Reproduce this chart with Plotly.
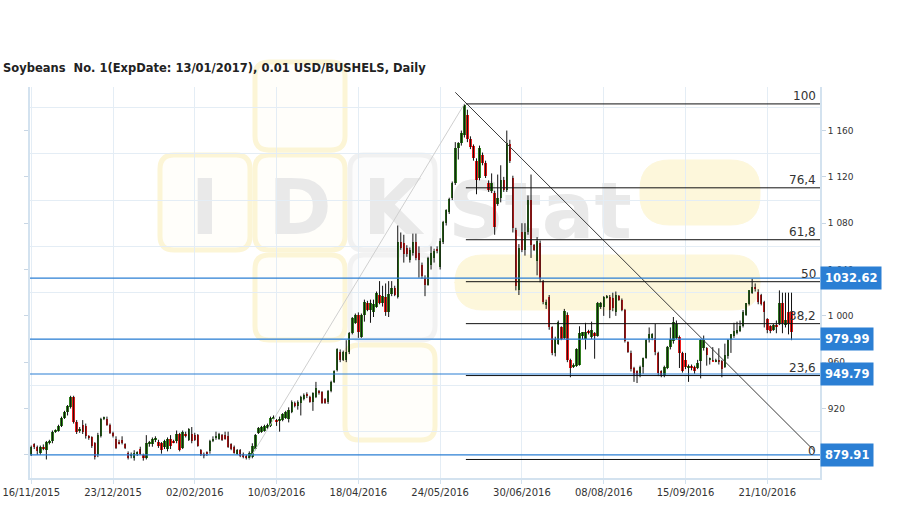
import plotly.graph_objects as go

# ---------------- data ----------------
tick_labels = ["16/11/2015", "23/12/2015", "02/02/2016", "10/03/2016", "18/04/2016",
               "24/05/2016", "30/06/2016", "08/08/2016", "15/09/2016", "21/10/2016"]
bars_per_tick = 27

opens = [880, 889, 887, 882, 887, 884, 891, 892, 900, 901, 905, 912, 917, 921, 930, 908, 901, 906, 905, 896,
         895, 890, 880, 896, 911, 911, 906, 899, 894, 891, 893, 889, 882, 879, 877, 881, 885, 880, 877, 889,
         889, 893, 891, 890, 887, 885, 894, 892, 892, 898, 886, 898, 893, 898, 897, 897, 884, 880, 882, 883,
         892, 895, 894, 897, 897, 896, 889, 887, 881, 884, 881, 879, 877, 878, 885, 899, 900, 901, 903, 905,
         911, 910, 909, 910, 912, 911, 917, 925, 922, 925, 928, 932, 930, 926, 930, 935, 934, 928, 926, 935,
         943, 953, 969, 962, 962, 969, 985, 994, 1001, 982, 1001, 1011, 1005, 1003, 1008, 1018, 1011, 1016, 1003, 1019,
         1024, 1016, 1064, 1063, 1059, 1048, 1054, 1064, 1054, 1044, 1033, 1027, 1044, 1050, 1058, 1042, 1064, 1080, 1090, 1102,
         1115, 1145, 1149, 1156, 1173, 1153, 1147, 1134, 1119, 1139, 1132, 1115, 1108, 1106, 1097, 1102, 1117, 1109, 1148, 1119,
         1074, 1022, 1072, 1057, 1072, 1100, 1061, 1047, 1063, 1030, 1009, 1016, 990, 968, 976, 990, 981, 1001, 962, 956,
         957, 958, 983, 980, 987, 982, 985, 983, 1008, 1008, 1016, 1016, 1015, 1003, 1017, 1014, 1005, 977, 968, 955,
         952, 949, 956, 964, 979, 981, 981, 968, 952, 949, 955, 973, 978, 981, 982, 968, 962, 955, 957, 956,
         955, 961, 972, 972, 962, 962, 961, 962, 961, 956, 965, 979, 983, 985, 987, 991, 1001, 1010, 1020, 1025,
         1021, 1018, 1012, 997, 991, 988, 992, 993, 1011, 992, 1003, 1003]
highs = [888, 890, 888, 888, 889, 892, 893, 901, 902, 906, 913, 918, 923, 931, 931, 910, 904, 910, 907, 897,
         896, 891, 899, 912, 913, 913, 907, 900, 896, 893, 896, 890, 883, 882, 884, 883, 887, 881, 897, 892,
         895, 896, 893, 891, 893, 895, 897, 893, 901, 899, 901, 900, 903, 904, 899, 898, 885, 882, 883, 893,
         896, 900, 899, 898, 900, 900, 890, 888, 885, 885, 882, 880, 883, 890, 898, 904, 905, 906, 907, 913,
         914, 911, 913, 916, 918, 921, 927, 926, 927, 931, 933, 934, 931, 934, 943, 936, 935, 929, 936, 944,
         953, 972, 971, 970, 979, 986, 999, 1002, 1003, 1002, 1014, 1013, 1014, 1014, 1021, 1030, 1026, 1028, 1030, 1030,
         1026, 1078, 1072, 1070, 1061, 1059, 1071, 1071, 1060, 1046, 1035, 1051, 1060, 1058, 1060, 1067, 1082, 1092, 1102, 1116,
         1150, 1150, 1160, 1183, 1178, 1155, 1148, 1136, 1147, 1141, 1134, 1117, 1123, 1108, 1122, 1130, 1120, 1160, 1152, 1121,
         1076, 1062, 1080, 1080, 1104, 1122, 1062, 1068, 1065, 1031, 1014, 1018, 991, 982, 996, 991, 1006, 1003, 963, 959,
         972, 991, 986, 994, 988, 995, 986, 1012, 1012, 1017, 1018, 1018, 1020, 1021, 1018, 1015, 1006, 978, 970, 956,
         953, 957, 964, 980, 990, 985, 993, 969, 953, 957, 974, 990, 999, 996, 983, 969, 968, 958, 958, 957,
         962, 980, 983, 973, 964, 973, 963, 972, 962, 976, 980, 984, 994, 995, 996, 1005, 1011, 1022, 1032, 1028,
         1023, 1019, 1013, 998, 992, 993, 996, 1022, 1020, 1020, 1020, 1020]
lows = [879, 885, 880, 880, 884, 876, 889, 890, 899, 900, 904, 911, 914, 920, 907, 898, 899, 898, 894, 893,
        886, 876, 878, 895, 910, 905, 898, 895, 885, 889, 889, 885, 876, 877, 875, 879, 880, 875, 876, 887,
        887, 891, 886, 881, 885, 883, 885, 890, 890, 883, 885, 895, 892, 890, 892, 887, 879, 877, 879, 881,
        891, 893, 893, 892, 893, 886, 884, 881, 880, 878, 877, 876, 876, 877, 884, 898, 899, 900, 902, 904,
        910, 905, 900, 909, 911, 908, 916, 921, 919, 914, 927, 929, 925, 918, 929, 932, 924, 924, 924, 934,
        942, 952, 960, 961, 960, 967, 984, 993, 981, 981, 995, 1004, 994, 999, 1007, 1010, 1008, 1000, 999, 1017,
        1017, 1015, 1057, 1046, 1051, 1046, 1052, 1048, 1033, 1032, 1017, 1026, 1040, 1046, 1054, 1040, 1062, 1078, 1088, 1100,
        1113, 1135, 1147, 1154, 1150, 1144, 1134, 1105, 1117, 1130, 1119, 1107, 1106, 1070, 1095, 1098, 1107, 1107, 1132, 1072,
        1022, 1018, 1055, 1052, 1070, 1050, 1056, 1035, 1029, 1010, 1006, 988, 966, 965, 975, 979, 980, 960, 947, 955,
        956, 957, 980, 971, 984, 980, 963, 982, 1006, 1000, 1015, 998, 1004, 1000, 1013, 1004, 977, 968, 952, 943,
        942, 947, 950, 963, 977, 979, 966, 948, 947, 947, 954, 971, 976, 980, 955, 951, 954, 943, 953, 950,
        954, 946, 970, 957, 958, 961, 960, 958, 947, 955, 963, 968, 981, 984, 986, 990, 1000, 1009, 1019, 1021,
        1010, 1009, 990, 985, 985, 987, 985, 992, 985, 990, 984, 979]
closes = [887, 887, 883, 887, 885, 891, 892, 900, 901, 905, 912, 917, 922, 930, 908, 900, 902, 900, 896, 895,
          888, 878, 897, 911, 912, 906, 899, 896, 886, 890, 890, 886, 877, 881, 882, 881, 881, 877, 890, 891,
          894, 893, 888, 884, 892, 894, 888, 891, 898, 884, 900, 897, 902, 892, 893, 888, 880, 879, 881, 892,
          894, 896, 898, 893, 894, 887, 885, 882, 884, 879, 878, 877, 882, 888, 897, 903, 904, 905, 906, 912,
          912, 908, 911, 915, 917, 919, 926, 922, 926, 930, 932, 931, 926, 933, 938, 933, 925, 925, 935, 943,
          952, 971, 962, 969, 969, 985, 998, 1001, 986, 1001, 1012, 1005, 1011, 1010, 1020, 1011, 1017, 1003, 1019, 1024,
          1018, 1064, 1059, 1053, 1053, 1057, 1064, 1050, 1048, 1034, 1027, 1050, 1054, 1056, 1056, 1065, 1081, 1091, 1101, 1115,
          1145, 1149, 1158, 1182, 1153, 1146, 1136, 1117, 1145, 1132, 1121, 1109, 1115, 1077, 1102, 1117, 1109, 1149, 1134, 1076,
          1026, 1059, 1057, 1072, 1100, 1061, 1057, 1065, 1032, 1012, 1012, 990, 968, 980, 995, 980, 1004, 962, 955, 958,
          971, 985, 986, 986, 985, 988, 983, 1011, 1011, 1016, 1017, 1005, 1007, 1018, 1014, 1005, 978, 969, 954, 948,
          948, 956, 964, 979, 984, 984, 969, 951, 948, 956, 973, 980, 995, 993, 968, 952, 956, 956, 955, 952,
          959, 979, 979, 966, 963, 961, 962, 960, 954, 966, 979, 984, 987, 988, 991, 1003, 1011, 1022, 1025, 1024,
          1012, 1010, 1003, 988, 987, 992, 990, 1011, 994, 996, 993, 986]

# Fibonacci retracement drawn on the chart
fib_low_bar, fib_low = 72, 876.0
fib_high_bar, fib_high = 143, 1183.0
fib_pct = [0, 23.6, 38.2, 50, 61.8, 76.4, 100]
fib_text = ["0", "23,6", "38,2", "50", "61,8", "76,4", "100"]

# horizontal price levels with their labels
level_values = [1032.62, 979.99, 949.79, 879.91]

# trend line drawn from the top
trend_x = [140, 258.7]
trend_y = [1193, 883]

# ---------------- styling ----------------
GREEN = "#2f7d1d"
RED = "#f01c1c"
BLUE = "#2b7fd4"
GRID = "#e4edf5"
AXIS = "#d3e2ef"
TXT = "#333333"
FONT = "DejaVu Sans"

X_MIN, X_MAX = -0.4, 260.4
Y_MIN, Y_MAX = 860.0, 1197.6

n = len(closes)
idx = list(range(n))

# wicks
wx, wy = [], []
for i in idx:
    wx += [i, i, None]
    wy += [lows[i], highs[i], None]

bases = [min(o, c) for o, c in zip(opens, closes)]
heights = [max(abs(c - o), 0.9) for o, c in zip(opens, closes)]
colors = [GREEN if c >= o else RED for o, c in zip(opens, closes)]

fig = go.Figure()
fig.add_trace(go.Scatter(x=wx, y=wy, mode="lines", line=dict(color="#111111", width=1),
                         hoverinfo="skip", showlegend=False))
fig.add_trace(go.Bar(x=idx, y=heights, base=bases, width=0.8, marker=dict(color=colors, line=dict(width=0)),
                     showlegend=False, hoverinfo="skip"))

# grey swing line (low -> high)
fig.add_trace(go.Scatter(x=[fib_low_bar, fib_high_bar], y=[fib_low, fib_high], mode="lines",
                         line=dict(color="#cfcfcf", width=1), hoverinfo="skip", showlegend=False))
# black trend line
fig.add_trace(go.Scatter(x=trend_x, y=trend_y, mode="lines",
                         line=dict(color="#3a3a3a", width=1), hoverinfo="skip", showlegend=False))

shapes = []
annotations = []

# ---- watermark (decorative, drawn below everything) ----
PL, PR, PT, PB = 30, 820, 87, 478
def px(xp):
    return (xp - PL) / (PR - PL)
def py(yp):
    return (PB - yp) / (PB - PT)

LETTER = "#e9e9e9"
def rrect(x0, y0, x1, y1, r, fill, line, lw=5, label=None):
    rx = r / (PR - PL)
    ry = r / (PB - PT)
    X0, X1 = px(x0), px(x1)
    Y0, Y1 = py(y1), py(y0)
    path = (f"M {X0+rx},{Y0} L {X1-rx},{Y0} Q {X1},{Y0} {X1},{Y0+ry} L {X1},{Y1-ry} "
            f"Q {X1},{Y1} {X1-rx},{Y1} L {X0+rx},{Y1} Q {X0},{Y1} {X0},{Y1-ry} L {X0},{Y0+ry} "
            f"Q {X0},{Y0} {X0+rx},{Y0} Z")
    s = dict(type="path", path=path, xref="paper", yref="paper", layer="below",
             fillcolor=fill, line=dict(color=line, width=lw))
    if label:
        s["label"] = dict(text=label, font=dict(family=FONT, size=76, color=LETTER),
                          textposition="middle center")
    shapes.append(s)

SQ_FILL, SQ_LINE = "#fffefa", "#fcf5d6"
rrect(255, 62, 345, 150, 14, SQ_FILL, SQ_LINE)
rrect(160, 155, 250, 250, 14, SQ_FILL, SQ_LINE, label="<b>I</b>")
rrect(255, 155, 345, 250, 14, SQ_FILL, SQ_LINE, label="<b>D</b>")
rrect(350, 155, 435, 250, 14, "#fcfcfc", "#f1f1f1", label="<b>K</b>")
rrect(640, 160, 760, 225, 30, "#fdf7db", "#fdf7db", lw=1)
rrect(255, 255, 345, 340, 14, SQ_FILL, SQ_LINE)
rrect(350, 255, 435, 340, 14, "#fcfcfc", "#f2f2f2")
rrect(455, 255, 760, 310, 28, "#fdf7db", "#fdf7db", lw=1)
rrect(345, 345, 435, 440, 14, SQ_FILL, SQ_LINE)
shapes.append(dict(type="rect", xref="paper", yref="paper", x0=px(440), x1=px(640), y0=py(245), y1=py(165),
                   layer="below", line=dict(width=0), fillcolor="rgba(0,0,0,0)",
                   label=dict(text="<b>Stat</b>", font=dict(family=FONT, size=78, color=LETTER),
                              textposition="middle center")))

# ---- fibonacci lines ----
for p, t in zip(fib_pct, fib_text):
    lv = fib_low + p / 100.0 * (fib_high - fib_low)
    shapes.append(dict(type="line", xref="x", yref="y", x0=fib_high_bar + 0.5, x1=X_MAX, y0=lv, y1=lv,
                       line=dict(color="#111111", width=1)))
    annotations.append(dict(x=X_MAX - 0.7, y=lv, xref="x", yref="y", text=t, showarrow=False,
                            xanchor="right", yanchor="bottom", yshift=-1,
                            font=dict(family=FONT, size=12, color=TXT)))

# ---- blue price levels ----
for v in level_values:
    shapes.append(dict(type="line", xref="paper", yref="y", x0=0, x1=1, y0=v, y1=v,
                       line=dict(color=BLUE, width=1.2)))
    annotations.append(dict(x=1.0, y=v, xref="paper", yref="y", text=f"<b>{v:.2f}</b>", showarrow=False,
                            xanchor="left", yanchor="middle", bgcolor=BLUE, borderpad=4,
                            font=dict(family=FONT, size=11.5, color="white")))

tickvals = [k * bars_per_tick for k in range(len(tick_labels))]

fig.update_layout(
    width=909, height=509,
    margin=dict(l=PL, r=909 - PR, t=PT, b=509 - PB, pad=0, autoexpand=False),
    paper_bgcolor="white", plot_bgcolor="rgba(0,0,0,0)",
    separators=". ",
    font=dict(family=FONT, color=TXT),
    title=dict(text="<b>Soybeans\u00a0\u00a0No. 1(ExpDate: 13/01/2017), 0.01 USD/BUSHELS, Daily</b>",
               x=3 / 909, xanchor="left", xref="container", y=1 - 68 / 509, yanchor="middle", yref="container",
               automargin=False, pad=dict(t=0, b=0, l=0, r=0),
               font=dict(family=FONT, size=11.5, color="#222222")),
    showlegend=False,
    shapes=shapes,
    annotations=annotations,
    bargap=0,
    xaxis=dict(range=[X_MIN, X_MAX], tickmode="array", tickvals=tickvals, ticktext=tick_labels,
               automargin=False,
               showgrid=True, gridcolor=GRID, gridwidth=1, zeroline=False,
               showline=True, linecolor=AXIS, linewidth=2,
               ticks="outside", ticklen=4, tickcolor=AXIS,
               tickfont=dict(family=FONT, size=10, color=TXT)),
    yaxis=dict(range=[Y_MIN, Y_MAX], side="right", tickmode="linear", tick0=0, dtick=40,
               automargin=False,
               tickformat=",d", showgrid=False, zeroline=False,
               showline=True, linecolor=AXIS, linewidth=2, mirror="ticks",
               ticks="outside", ticklen=4, tickcolor="#c8d6e4",
               tickfont=dict(family=FONT, size=9, color=TXT),
               minor=dict(tick0=20, dtick=40, showgrid=True, gridcolor=GRID, gridwidth=1, ticklen=0)),
)

# place the figure at the page's top-left corner (no default body margin)
fig.write_html("out.html", config={"displayModeBar": False},
               post_script="document.body.style.margin='0';document.body.style.overflow='hidden';")
